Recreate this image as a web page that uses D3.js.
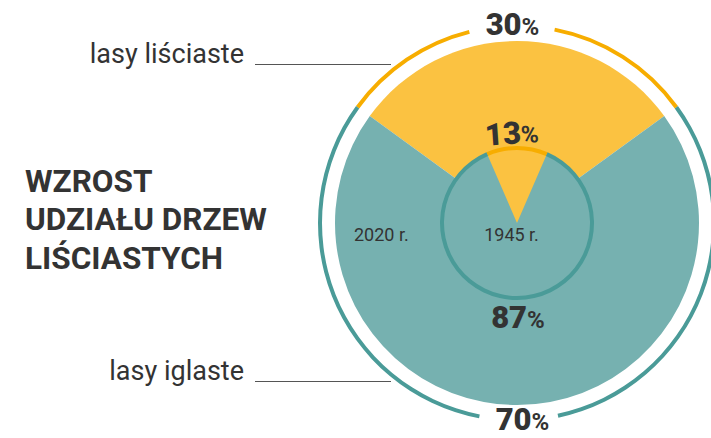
<!DOCTYPE html>
<html>
<head>
<meta charset="utf-8">
<script src="https://cdn.jsdelivr.net/npm/d3@7"></script>
<style>
  body { margin: 0; background: #fff; }
  text { font-family: Roboto, "Noto Sans", sans-serif; fill: #333; }
</style>
</head>
<body>
<div id="chart"></div>
<script>
// shares of forest types (%) in two years
const years = ["2020 r.", "1945 r."];
const categories = ["lasy liściaste", "lasy iglaste"];
const share2020 = [30, 70];
const share1945 = [13, 87];
const titleLines = ["WZROST", "UDZIAŁU DRZEW", "LIŚCIASTYCH"];

const width = 711, height = 438;
const cx = 517, cy = 223;
const rOuter = 182, rInner = 75, rRing = 197;

const fillColor = d3.scaleOrdinal().domain(categories).range(["#fbc241", "#76b1b0"]);
const lineColor = d3.scaleOrdinal().domain(categories).range(["#f7ad00", "#4a9b98"]);

const svg = d3.select("#chart").append("svg")
  .attr("width", width)
  .attr("height", height);

const g = svg.append("g").attr("transform", `translate(${cx},${cy})`);

// pie centred on the top: the first slice is symmetric about 12 o'clock
function makePie(values) {
  const a = Math.PI * values[0] / 100;
  return d3.pie().sort(null).startAngle(-a).endAngle(2 * Math.PI - a)(values)
    .map((d, i) => ({ ...d, cat: categories[i] }));
}

const pie2020 = makePie(share2020);
const pie1945 = makePie(share1945);

// big pie (2020)
g.selectAll("path.big")
  .data(pie2020)
  .join("path")
  .attr("class", "big")
  .attr("d", d3.arc().innerRadius(0).outerRadius(rOuter))
  .attr("fill", d => fillColor(d.cat));

// small pie (1945)
g.selectAll("path.small")
  .data(pie1945)
  .join("path")
  .attr("class", "small")
  .attr("d", d3.arc().innerRadius(0).outerRadius(rInner))
  .attr("fill", d => fillColor(d.cat));

// outline of small pie
g.selectAll("path.smallEdge")
  .data(pie1945)
  .join("path")
  .attr("class", "smallEdge")
  .attr("d", d3.arc().innerRadius(rInner - 2).outerRadius(rInner + 2))
  .attr("fill", d => lineColor(d.cat));

// outer ring with gaps for the labels
const deg = Math.PI / 180;
const topGap = [-14 * deg, 11 * deg];
const botGap = [168 * deg, 191 * deg];
const ringArc = d3.arc().innerRadius(rRing - 2).outerRadius(rRing + 2);
const ringParts = [];
pie2020.forEach(d => {
  if (d.cat === categories[0]) {
    ringParts.push({ s: d.startAngle, e: topGap[0], cat: d.cat });
    ringParts.push({ s: topGap[1], e: d.endAngle, cat: d.cat });
  } else {
    ringParts.push({ s: d.startAngle, e: botGap[0], cat: d.cat });
    ringParts.push({ s: botGap[1], e: d.endAngle, cat: d.cat });
  }
});
g.selectAll("path.ring")
  .data(ringParts)
  .join("path")
  .attr("class", "ring")
  .attr("d", d => ringArc({ startAngle: d.s, endAngle: d.e }))
  .attr("fill", d => lineColor(d.cat));

// percentage labels
function pctLabel(x, y, v, rot) {
  const t = g.append("text")
    .attr("transform", `translate(${x},${y}) rotate(${rot || 0})`)
    .attr("text-anchor", "middle")
    .attr("font-weight", 900);
  t.append("tspan").attr("font-size", 31).text(v);
  t.append("tspan").attr("font-size", 24).attr("font-weight", 700).text("%");
}
pctLabel(-4.5, -188, share2020[0]);
pctLabel(5.5, 207, share2020[1]);
pctLabel(-4.5, -79, share1945[0], -4);
pctLabel(1, 105, share1945[1]);

// year labels
g.append("text").attr("x", -163).attr("y", 18)
  .attr("font-size", 18).text(years[0]);
g.append("text").attr("x", -5.5).attr("y", 18)
  .attr("text-anchor", "middle")
  .attr("font-size", 18).text(years[1]);

// category labels with leader lines
const labelY = [64, 381];
categories.forEach((c, i) => {
  svg.append("text")
    .attr("x", 244).attr("y", labelY[i] - 1)
    .attr("text-anchor", "end")
    .attr("font-size", 27)
    .text(c);
  svg.append("line")
    .attr("x1", 255).attr("x2", 391)
    .attr("y1", labelY[i] + 0.5).attr("y2", labelY[i] + 0.5)
    .attr("stroke", "#555").attr("stroke-width", 1);
});

// title
svg.append("text")
  .attr("x", 25)
  .attr("font-size", 31.5)
  .attr("font-weight", 700)
  .selectAll("tspan")
  .data(titleLines)
  .join("tspan")
  .attr("x", 25)
  .attr("y", (d, i) => 192 + i * 38.3)
  .text(d => d);
</script>
</body>
</html>
